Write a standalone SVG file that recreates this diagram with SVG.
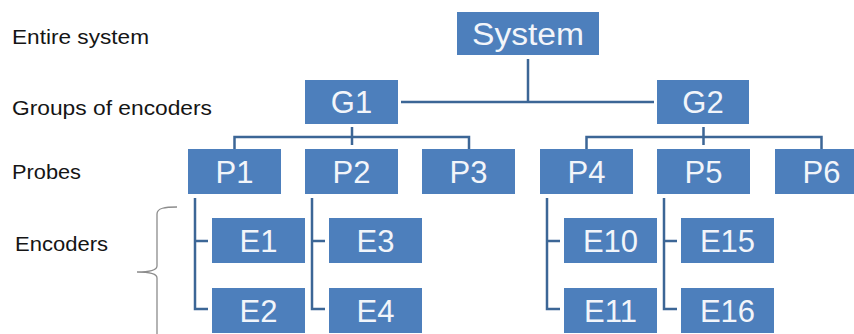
<svg xmlns="http://www.w3.org/2000/svg" width="854" height="334" viewBox="0 0 854 334">
<style>
.box{fill:#4d7fbc}
.bt{font-family:"Liberation Sans",Arial,sans-serif;font-size:31px;fill:#f2f5fa;text-anchor:middle}
.lbl{font-family:"Liberation Sans",Arial,sans-serif;font-size:20px;fill:#151515}
.con{fill:none;stroke:#3c6696;stroke-width:2.5}
.brace{fill:none;stroke:#8c8c8c;stroke-width:1.3}
</style>
<rect width="854" height="334" fill="#ffffff"/>
<g id="labels">
<text class="lbl" x="12" y="44" textLength="137" lengthAdjust="spacingAndGlyphs">Entire system</text>
<text class="lbl" x="12" y="115" textLength="200" lengthAdjust="spacingAndGlyphs">Groups of encoders</text>
<text class="lbl" x="12" y="179" textLength="69" lengthAdjust="spacingAndGlyphs">Probes</text>
<text class="lbl" x="15" y="251" textLength="93" lengthAdjust="spacingAndGlyphs">Encoders</text>
<path class="brace" d="M177,207 C165,207 157,208 157,214 L157,266 C157,270 150,272 137,272 C150,272 157,274 157,278 L157,334"/>
</g>
<g id="connectors">
<path class="con" d="M528,59 V102 M401,102 H654"/>
<path class="con" d="M352,127 V145 M234.5,149 V137 H469 V149"/>
<path class="con" d="M703.5,127 V145 M586.5,149 V137 H821.5 V149"/>
<path class="con" d="M195,198 V309 H208 M195,241 H208"/>
<path class="con" d="M312,198 V309 H325 M312,241 H325"/>
<path class="con" d="M547,198 V309 H560 M547,241 H560"/>
<path class="con" d="M664,198 V309 H677 M664,241 H677"/>
</g>
<g id="system"><rect class="box" x="457" y="12" width="142" height="43"/><text class="bt" x="528" y="45" textLength="112" lengthAdjust="spacingAndGlyphs">System</text></g>
<g id="g1"><rect class="box" x="305" y="80" width="93" height="44"/><text class="bt" x="351.5" y="113">G1</text></g>
<g id="g2"><rect class="box" x="657" y="80" width="92" height="44"/><text class="bt" x="703" y="113">G2</text></g>
<g id="p1"><rect class="box" x="188" y="149" width="93" height="45"/><text class="bt" x="234.5" y="183">P1</text></g>
<g id="p2"><rect class="box" x="305" y="149" width="93" height="45"/><text class="bt" x="351.5" y="183">P2</text></g>
<g id="p3"><rect class="box" x="422" y="149" width="93" height="45"/><text class="bt" x="468.5" y="183">P3</text></g>
<g id="p4"><rect class="box" x="540" y="149" width="93" height="45"/><text class="bt" x="586.5" y="183">P4</text></g>
<g id="p5"><rect class="box" x="657" y="149" width="93" height="45"/><text class="bt" x="703.5" y="183">P5</text></g>
<g id="p6"><rect class="box" x="775" y="149" width="93" height="45"/><text class="bt" x="821.5" y="183">P6</text></g>
<g id="e1"><rect class="box" x="212" y="218" width="93" height="45"/><text class="bt" x="258.5" y="252">E1</text></g>
<g id="e2"><rect class="box" x="212" y="288" width="93" height="45"/><text class="bt" x="258.5" y="322">E2</text></g>
<g id="e3"><rect class="box" x="329" y="218" width="93" height="45"/><text class="bt" x="375.5" y="252">E3</text></g>
<g id="e4"><rect class="box" x="329" y="288" width="93" height="45"/><text class="bt" x="375.5" y="322">E4</text></g>
<g id="e10"><rect class="box" x="564" y="218" width="93" height="45"/><text class="bt" x="610.5" y="252">E10</text></g>
<g id="e11"><rect class="box" x="564" y="288" width="93" height="45"/><text class="bt" x="610.5" y="322">E11</text></g>
<g id="e15"><rect class="box" x="681" y="218" width="93" height="45"/><text class="bt" x="727.5" y="252">E15</text></g>
<g id="e16"><rect class="box" x="681" y="288" width="93" height="45"/><text class="bt" x="727.5" y="322">E16</text></g>
</svg>
